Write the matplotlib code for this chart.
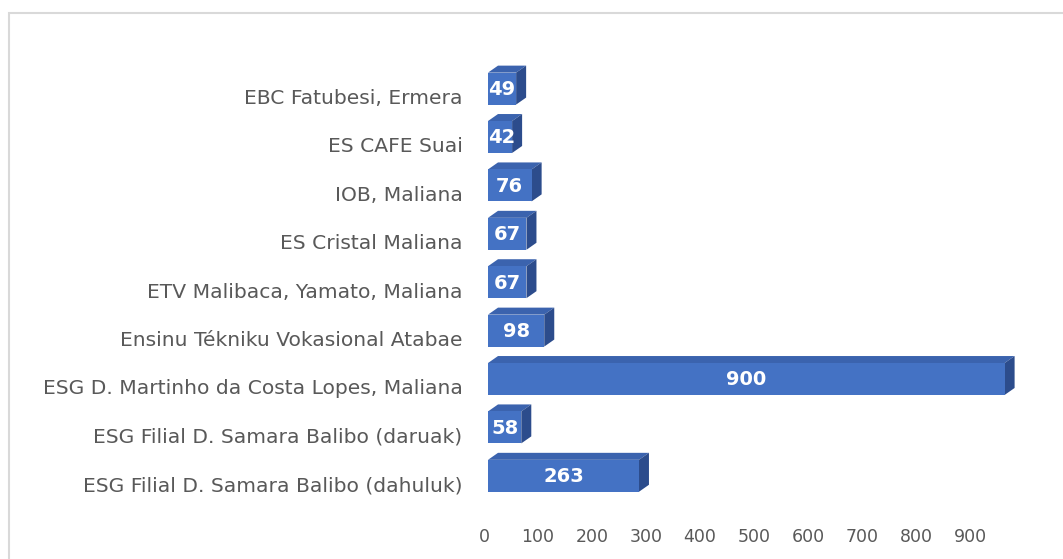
import numpy as np
import matplotlib.pyplot as plt
from matplotlib.patches import Polygon, Rectangle
import matplotlib.transforms as mtransforms

# data (bottom to top)
schools = ['ESG Filial D. Samara Balibo (dahuluk)',
           'ESG Filial D. Samara Balibo (daruak)',
           'ESG D. Martinho da Costa Lopes, Maliana',
           'Ensinu Tékniku Vokasional Atabae',
           'ETV Malibaca, Yamato, Maliana',
           'ES Cristal Maliana',
           'IOB, Maliana',
           'ES CAFE Suai',
           'EBC Fatubesi, Ermera']
students = [263, 58, 900, 98, 67, 67, 76, 42, 49]
tick_vals = [0, 100, 200, 300, 400, 500, 600, 700, 800, 900]

W, H = 1063, 559
fig = plt.figure(figsize=(W / 100, H / 100), dpi=100)
plt.rcParams['font.family'] = ['DejaVu Sans']

# light frame around the chart area
fig.patches.append(Rectangle((9 / W, -0.1), 1.2, (H - 13) / H + 0.1, transform=fig.transFigure,
                             fill=False, ec='#D9D9D9', lw=1.5))

px_per_unit = 0.574
xmin, xmax = -8, 950
x0_px = 488 + xmin * px_per_unit
ax_w = (xmax - xmin) * px_per_unit
ax = fig.add_axes([x0_px / W, 59 / H, ax_w / W, 435.6 / H])
ax.set_xlim(xmin, xmax)
ax.set_ylim(-0.5, len(students) - 0.5)

front = '#4472C4'
top_c = '#3B63AE'
side_c = '#2C4C8C'
h = 0.66
dx = 10 / px_per_unit
dy = 7 / 48.4

y = np.arange(len(students))
ax.barh(y, students, height=h, color=front, zorder=3)
for yi, v in zip(y, students):
    yb, yt = yi - h / 2, yi + h / 2
    ax.add_patch(Polygon([(0, yt), (v, yt), (v + dx, yt + dy), (dx, yt + dy)],
                         closed=True, fc=top_c, ec='none', zorder=2))
    ax.add_patch(Polygon([(v, yb), (v + dx, yb + dy), (v + dx, yt + dy), (v, yt)],
                         closed=True, fc=side_c, ec='none', zorder=2))
    ax.text(max(v / 2, 24), yi - 0.02, str(v), ha='center', va='center', color='white',
            fontsize=14, fontweight='bold', zorder=4)

ax.set_yticks(y)
ax.set_yticklabels(schools, fontsize=14.6, color='#595959')
ax.tick_params(axis='y', length=0, pad=15)
off = mtransforms.ScaledTranslation(0, -8 / 100, fig.dpi_scale_trans)
for lab in ax.get_yticklabels():
    lab.set_transform(lab.get_transform() + off)

ax.set_xticks([])
for s in ax.spines.values():
    s.set_visible(False)

# value axis labels sit on the chart floor (slightly narrower perspective)
def to_tick(x):
    return (4 + px_per_unit * np.asarray(x)) / 0.54

def from_tick(t):
    return (0.54 * np.asarray(t) - 4) / px_per_unit

sec = ax.secondary_xaxis('bottom', functions=(to_tick, from_tick))
sec.set_xticks(tick_vals)
sec.tick_params(length=0, pad=20, labelsize=12.5, labelcolor='#595959')
sec.spines['bottom'].set_visible(False)

fig.savefig('out.png', dpi=100)
